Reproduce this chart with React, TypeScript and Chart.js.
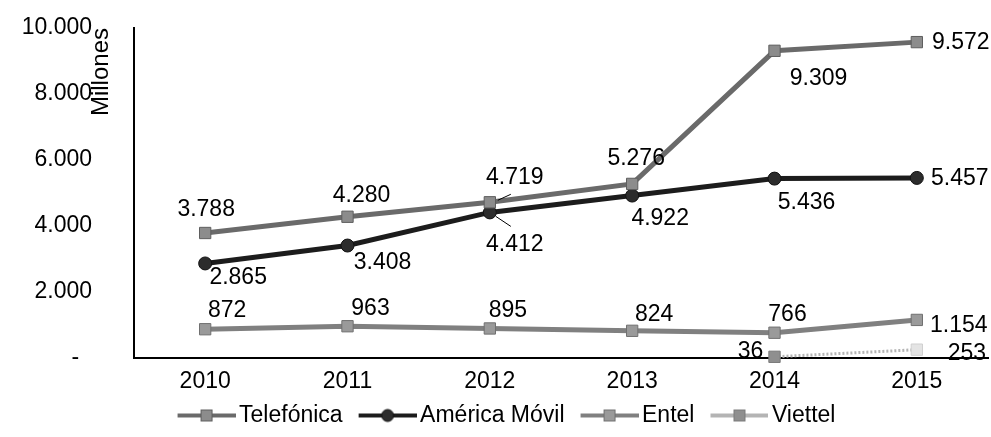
import React, { useEffect, useRef } from 'react';
import { Chart, registerables } from 'chart.js';

Chart.register(...registerables);

// ---- data ----
const YEARS = ['2010', '2011', '2012', '2013', '2014', '2015'];
const SERIES_NAMES = ['Telefónica', 'América Móvil', 'Entel', 'Viettel'];
const TELEFONICA = [3788, 4280, 4719, 5276, 9309, 9572];
const AMERICA_MOVIL = [2865, 3408, 4412, 4922, 5436, 5457];
const ENTEL = [872, 963, 895, 824, 766, 1154];
const VIETTEL = [null, null, null, null, 36, 253];
const Y_TICKS = [0, 2000, 4000, 6000, 8000, 10000];
const Y_TICK_LABELS = ['-', '2.000', '4.000', '6.000', '8.000', '10.000'];
const Y_TITLE = 'Millones';

// ---- styling ----
const FONT = '"Liberation Sans", Arial, Helvetica, sans-serif';
const FS = 23;
const PAD_LEFT = 20;
const PLOT_LEFT = 134;

const STYLES = [
  { line: '#6a6a6a', fill: '#8c8c8c', stroke: '#5e5e5e', shape: 'rect', r: 8, width: 5 },
  { line: '#1c1c1c', fill: '#2c2c2c', stroke: '#111111', shape: 'circle', r: 6.5, width: 5 },
  { line: '#808080', fill: '#9a9a9a', stroke: '#707070', shape: 'rect', r: 8, width: 5 },
  { line: '#b4b4b4', fill: '#8f8f8f', stroke: '#7a7a7a', shape: 'rect', r: 8, width: 3 },
];

// label centre offsets (px) from each point
const LABEL_OFFSETS: number[][][] = [
  [[1, -23], [14, -21], [25, -25], [4, -25], [44, 28], [44, 1]],
  [[33, 14], [35, 17], [25, 32], [28, 23], [32, 24], [43, 1]],
  [[22, -19], [23, -18], [18, -18], [22, -16], [13, -18], [42, 6]],
  [[0, 0], [0, 0], [0, 0], [0, 0], [-24, -5], [50, 4]],
];

const LEADERS = [
  { ds: 0, i: 2, from: [8, -2], to: [21, -8] },
  { ds: 1, i: 2, from: [6, 4], to: [21, 14] },
];

// legend swatch geometry (relative to legend item start)
const LEG_BOX = 55;
const LEG_LINE_FROM = 5;
const LEG_LINE_TO = 63;

const fmt = (v: number) => String(v).replace(/\B(?=(\d{3})+(?!\d))/g, '.');

const valueLabels = {
  id: 'valueLabels',
  afterDatasetsDraw(chart: any) {
    const ctx = chart.ctx;
    ctx.save();
    ctx.font = `${FS}px ${FONT}`;
    ctx.fillStyle = '#000';
    ctx.textAlign = 'center';
    ctx.textBaseline = 'middle';
    chart.data.datasets.forEach((ds: any, di: number) => {
      const meta = chart.getDatasetMeta(di);
      meta.data.forEach((pt: any, i: number) => {
        const v = ds.data[i];
        if (v == null) return;
        const [dx, dy] = LABEL_OFFSETS[di][i];
        ctx.fillText(fmt(v), pt.x + dx, pt.y + dy);
      });
    });
    ctx.strokeStyle = '#000';
    ctx.lineWidth = 1;
    LEADERS.forEach((l) => {
      const pt = chart.getDatasetMeta(l.ds).data[l.i];
      ctx.beginPath();
      ctx.moveTo(pt.x + l.from[0], pt.y + l.from[1]);
      ctx.lineTo(pt.x + l.to[0], pt.y + l.to[1]);
      ctx.stroke();
    });
    ctx.restore();
  },
};

export default function App() {
  const ref = useRef<HTMLCanvasElement>(null);

  useEffect(() => {
    const canvas = ref.current;
    if (!canvas) return;

    const half = LEG_BOX / 2;
    const reach = Math.max(Math.abs(LEG_LINE_FROM - half), Math.abs(LEG_LINE_TO - half));
    const IMG_W = Math.ceil(reach * 2);
    const toImg = (rel: number) => rel - half + IMG_W / 2;
    const legendImgs = STYLES.map((s) => {
      const c = document.createElement('canvas');
      c.width = IMG_W;
      c.height = 16;
      const g = c.getContext('2d')!;
      const x0 = toImg(LEG_LINE_FROM);
      const x1 = toImg(LEG_LINE_TO);
      g.strokeStyle = s.line;
      g.lineWidth = 4;
      g.beginPath();
      g.moveTo(x0, 8);
      g.lineTo(x1, 8);
      g.stroke();
      g.fillStyle = s.fill;
      g.strokeStyle = s.stroke;
      g.lineWidth = 1;
      const cx = (x0 + x1) / 2;
      if (s.shape === 'rect') {
        g.fillRect(cx - 6, 2, 12, 12);
        g.strokeRect(cx - 5.5, 2.5, 11, 11);
      } else {
        g.beginPath();
        g.arc(cx, 8, 6, 0, Math.PI * 2);
        g.fill();
        g.stroke();
      }
      return c;
    });

    const seriesData = [TELEFONICA, AMERICA_MOVIL, ENTEL, VIETTEL];

    const datasets = seriesData.map((d, i) => {
      const s = STYLES[i];
      const isViettel = i === 3;
      return {
        label: SERIES_NAMES[i],
        data: d,
        borderColor: s.line,
        borderWidth: s.width,
        tension: 0,
        spanGaps: false,
        clip: false,
        pointStyle: s.shape,
        pointRadius: s.r,
        pointHoverRadius: s.r,
        pointBorderWidth: 1,
        pointBackgroundColor: isViettel ? d.map((_, k) => (k === 5 ? '#e4e4e4' : s.fill)) : s.fill,
        pointBorderColor: isViettel ? d.map((_, k) => (k === 5 ? '#d0d0d0' : s.stroke)) : s.stroke,
        borderDash: isViettel ? [2, 2] : [],
      };
    });

    Chart.defaults.font.family = FONT;
    Chart.defaults.font.size = FS;
    Chart.defaults.color = '#000';

    const chart = new Chart(canvas, {
      type: 'line',
      data: { labels: YEARS, datasets: datasets as any },
      plugins: [valueLabels],
      options: {
        responsive: false,
        animation: false,
        events: [],
        layout: { autoPadding: false, padding: { top: 28, right: 3, left: PAD_LEFT, bottom: 0 } },
        plugins: {
          tooltip: { enabled: false },
          legend: {
            position: 'bottom',
            labels: {
              usePointStyle: true,
              pointStyleWidth: LEG_BOX,
              padding: 11,
              font: { size: FS, family: FONT },
              color: '#000',
              generateLabels: (ch: any) =>
                ch.data.datasets.map((ds: any, i: number) => ({
                  text: ds.label,
                  fillStyle: 'transparent',
                  strokeStyle: 'transparent',
                  lineWidth: 0,
                  pointStyle: legendImgs[i],
                  hidden: false,
                  datasetIndex: i,
                  fontColor: '#000',
                })),
            },
          },
        },
        scales: {
          x: {
            type: 'category',
            offset: true,
            grid: { display: false, drawTicks: false },
            border: { display: true, color: '#000', width: 2 },
            ticks: { padding: 10, font: { size: FS, family: FONT }, color: '#000', maxRotation: 0, autoSkip: false },
            afterFit: (scale: any) => {
              scale.height = 35;
              scale.paddingLeft = 0;
              scale.paddingRight = 0;
            },
          },
          y: {
            min: 0,
            max: 10000,
            grid: { display: false, drawTicks: false },
            border: { display: true, color: '#000', width: 2 },
            afterBuildTicks: (scale: any) => {
              scale.ticks = Y_TICKS.map((v) => ({ value: v }));
            },
            ticks: {
              padding: 42,
              font: { size: FS, family: FONT },
              color: '#000',
              callback: (v: any) => {
                const idx = Y_TICKS.indexOf(Number(v));
                const lbl = Y_TICK_LABELS[idx];
                return lbl === '-' ? '-  ' : lbl;
              },
            },
            title: {
              display: true,
              text: Y_TITLE,
              align: 'end',
              color: '#000',
              font: { size: 24, family: FONT },
              padding: { top: 101 - PAD_LEFT - 14.4, bottom: 0 },
            },
            afterFit: (scale: any) => {
              scale.width = PLOT_LEFT - PAD_LEFT;
              scale.paddingTop = 0;
              scale.paddingBottom = 0;
            },
          },
        },
      } as any,
    });

    return () => chart.destroy();
  }, []);

  return (
    <div style={{ position: 'absolute', left: 0, top: 0, width: 991, height: 437, background: '#fff' }}>
      <canvas ref={ref} width={991} height={437} style={{ display: 'block' }} />
    </div>
  );
}
